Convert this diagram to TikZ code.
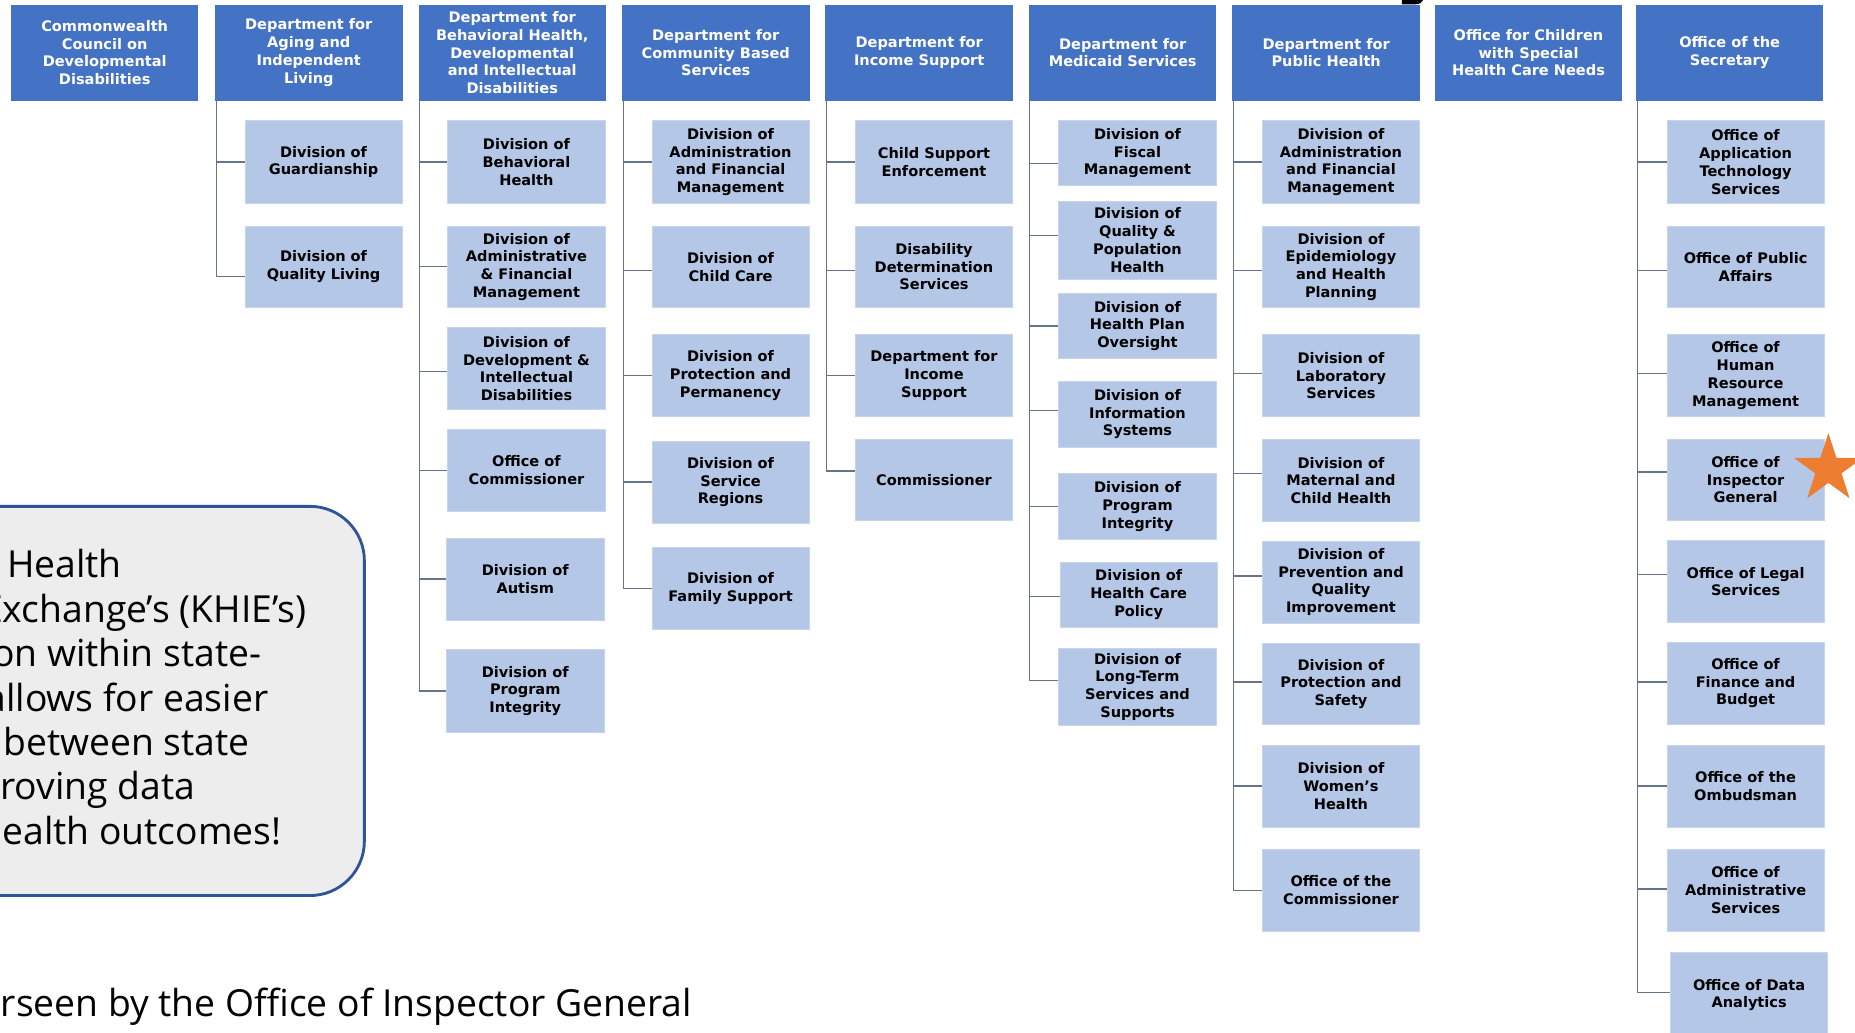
\documentclass[tikz,border=0pt]{standalone}
\usepackage{fontspec}
\usetikzlibrary{shapes.geometric}
\newfontfamily\orgfont{DejaVu Sans}
\newfontfamily\osfont{Open Sans}
\definecolor{hdrblue}{HTML}{4472C4}
\definecolor{kidblue}{HTML}{B4C7E7}
\definecolor{kidedge}{HTML}{C6D4EC}
\definecolor{connc}{HTML}{66748C}
\definecolor{calloutfill}{HTML}{EDEDED}
\definecolor{calloutedge}{HTML}{2F5597}
\definecolor{starorange}{HTML}{ED7D31}
\begin{document}
\begin{tikzpicture}[x=1pt,y=-1pt,
  hdr/.style={fill=hdrblue,text=white,font=\orgfont\bfseries\fontsize{12.3}{15}\selectfont,
    align=center,inner sep=0pt,minimum width=158.5pt,minimum height=81pt},
  kid/.style={fill=kidblue,draw=kidedge,line width=0.6pt,text=black,
    font=\orgfont\bfseries\fontsize{12.3}{15}\selectfont,
    align=center,inner sep=0pt,minimum width=133pt,minimum height=69pt},
  conn/.style={draw=connc,line width=1.1pt},
  calltext/.style={font=\osfont\fontsize{31.5}{38}\selectfont,text=black,inner sep=0pt,anchor=base east}]
\clip (0,0) rectangle (1568,873);
\fill[white] (0,0) rectangle (1568,873);

% small black shape at the top edge
\fill[black] (1185,0) -- (1185,3.6) -- (1197,3.6) .. controls (1200,3.6) and (1202,2) .. (1203,0) -- cycle;

% headers
\node[hdr] (h1) at (88.5,44.5) {Commonwealth\\Council on\\Developmental\\Disabilities};
\node[hdr] (h2) at (261,44.5) {Department for\\Aging and\\Independent\\Living};
\node[hdr] (h3) at (433,44.5) {Department for\\Behavioral Health,\\Developmental\\and Intellectual\\Disabilities};
\node[hdr] (h4) at (605,44.5) {Department for\\Community Based\\Services};
\node[hdr] (h5) at (777,44.5) {Department for\\Income Support};
\node[hdr] (h6) at (949,44.5) {Department for\\Medicaid Services};
\node[hdr] (h7) at (1121,44.5) {Department for\\Public Health};
\node[hdr] (h8) at (1292,44.5) {Office for Children\\with Special\\Health Care Needs};
\node[hdr] (h9) at (1462,44.5) {Office of the\\Secretary};

% column 2
\node[kid,minimum height=70pt] (a1) at (273.5,137) {Division of\\Guardianship};
\node[kid] (a2) at (273.5,225.5) {Division of\\Quality Living};
% column 3
\node[kid,minimum width=134pt,minimum height=70pt] (b1) at (445,137) {Division of\\Behavioral\\Health};
\node[kid,minimum width=134pt] (b2) at (445,225.5) {Division of\\Administrative\\\& Financial\\Management};
\node[kid,minimum width=134pt] (b3) at (445,311.5) {Division of\\Development \&\\Intellectual\\Disabilities};
\node[kid,minimum width=134pt] (b4) at (445,397.5) {Office of\\Commissioner};
\node[kid] (b5) at (444,489.5) {Division of\\Autism};
\node[kid,minimum height=70pt] (b6) at (444,584) {Division of\\Program\\Integrity};
% column 4
\node[kid,minimum height=70pt] (c1) at (617.5,137) {Division of\\Administration\\and Financial\\Management};
\node[kid] (c2) at (617.5,225.5) {Division of\\Child Care};
\node[kid] (c3) at (617.5,317.5) {Division of\\Protection and\\Permanency};
\node[kid] (c4) at (617.5,407.5) {Division of\\Service\\Regions};
\node[kid] (c5) at (617.5,497.5) {Division of\\Family Support};
% column 5
\node[kid,minimum height=70pt] (d1) at (789.5,137) {Child Support\\Enforcement};
\node[kid] (d2) at (789.5,225.5) {Disability\\Determination\\Services};
\node[kid] (d3) at (789.5,317.5) {Department for\\Income\\Support};
\node[kid] (d4) at (789.5,405.5) {Commissioner};
% column 6
\node[kid,minimum height=55pt] (e1) at (961.5,129.5) {Division of\\Fiscal\\Management};
\node[kid,minimum height=66pt] (e2) at (961.5,203) {Division of\\Quality \&\\Population\\Health};
\node[kid,minimum height=55pt] (e3) at (961.5,275.5) {Division of\\Health Plan\\Oversight};
\node[kid,minimum height=56pt] (e4) at (961.5,350) {Division of\\Information\\Systems};
\node[kid,minimum height=56pt] (e5) at (961.5,428) {Division of\\Program\\Integrity};
\node[kid,minimum height=55pt] (e6) at (962.5,502.5) {Division of\\Health Care\\Policy};
\node[kid,minimum height=65pt] (e7) at (961.5,580.5) {Division of\\Long-Term\\Services and\\Supports};
% column 7
\node[kid,minimum height=70pt] (f1) at (1133.5,137) {Division of\\Administration\\and Financial\\Management};
\node[kid] (f2) at (1133.5,225.5) {Division of\\Epidemiology\\and Health\\Planning};
\node[kid] (f3) at (1133.5,317.5) {Division of\\Laboratory\\Services};
\node[kid] (f4) at (1133.5,406) {Division of\\Maternal and\\Child Health};
\node[kid] (f5) at (1133.5,492) {Division of\\Prevention and\\Quality\\Improvement};
\node[kid] (f6) at (1133.5,578) {Division of\\Protection and\\Safety};
\node[kid] (f7) at (1133.5,664.5) {Division of\\Women’s\\Health};
\node[kid] (f8) at (1133.5,752.5) {Office of the\\Commissioner};
% column 9
\node[kid,minimum height=70pt] (g1) at (1475.5,137) {Office of\\Application\\Technology\\Services};
\node[kid] (g2) at (1475.5,225.5) {Office of Public\\Affairs};
\node[kid] (g3) at (1475.5,317.5) {Office of\\Human\\Resource\\Management};
\node[kid] (g4) at (1475.5,405.5) {Office of\\Inspector\\General};
\node[kid] (g5) at (1475.5,491.5) {Office of Legal\\Services};
\node[kid] (g6) at (1475.5,577.5) {Office of\\Finance and\\Budget};
\node[kid] (g7) at (1475.5,664.5) {Office of the\\Ombudsman};
\node[kid] (g8) at (1475.5,752.5) {Office of\\Administrative\\Services};
\node[kid,minimum height=72pt] (g9) at (1478.5,841) {Office of Data\\Analytics};

% connectors
\foreach \k/\s in {a1/0,a2/-8.5}{\draw[conn] ([xshift=1.2pt]h2.south west) |- ([yshift=\s pt]\k.west);}
\foreach \k/\s in {b1/0,b2/0,b3/-2.5,b4/0,b5/0,b6/0}{\draw[conn] ([xshift=1.2pt]h3.south west) |- ([yshift=\s pt]\k.west);}
\foreach \k/\s in {c1/0,c2/-3,c3/0,c4/0,c5/0}{\draw[conn] ([xshift=1.2pt]h4.south west) |- ([yshift=\s pt]\k.west);}
\foreach \k/\s in {d1/0,d2/-3,d3/0,d4/7.5}{\draw[conn] ([xshift=1.2pt]h5.south west) |- ([yshift=\s pt]\k.west);}
\foreach \k/\s in {e1/-8.5,e2/4,e3/0,e4/3,e5/0,e6/-1.5,e7/5}{\draw[conn] ([xshift=0.5pt]h6.south west) |- ([yshift=\s pt]\k.west);}
\foreach \k/\s in {f1/0,f2/-3,f3/1.5,f4/6,f5/5,f6/1.5,f7/0,f8/0}{\draw[conn] ([xshift=1.2pt]h7.south west) |- ([yshift=\s pt]\k.west);}
\foreach \k/\s in {g1/0,g2/-3,g3/1.5,g4/6.5,g5/6,g6/1,g7/0,g8/1,g9/2}{\draw[conn] ([xshift=1.5pt]h9.south west) |- ([yshift=\s pt]\k.west);}

% star
\node[star,star points=5,star point ratio=2.618,minimum size=61pt,inner sep=0pt,fill=starorange] (star) at (1545.5,396.5) {};

% callout
\draw[fill=calloutfill,draw=calloutedge,line width=2.4pt,rounded corners=46pt] (-60,428) rectangle (308,757);
\node[calltext] (t1) at (103,488) {Health};
\node[calltext] (t2) at (259,526) {Exchange’s (KHIE’s)};
\node[calltext] (t3) at (221,563.5) {on within state-};
\node[calltext] (t4) at (227,601) {allows for easier};
\node[calltext] (t5) at (211,638.5) {between state};
\node[calltext] (t6) at (165,676) {proving data};
\node[calltext] (t7) at (238,713.5) {health outcomes!};

% bottom line
\node[calltext] (bottom) at (585,859) {rseen by the Office of Inspector General};
\end{tikzpicture}
\end{document}
